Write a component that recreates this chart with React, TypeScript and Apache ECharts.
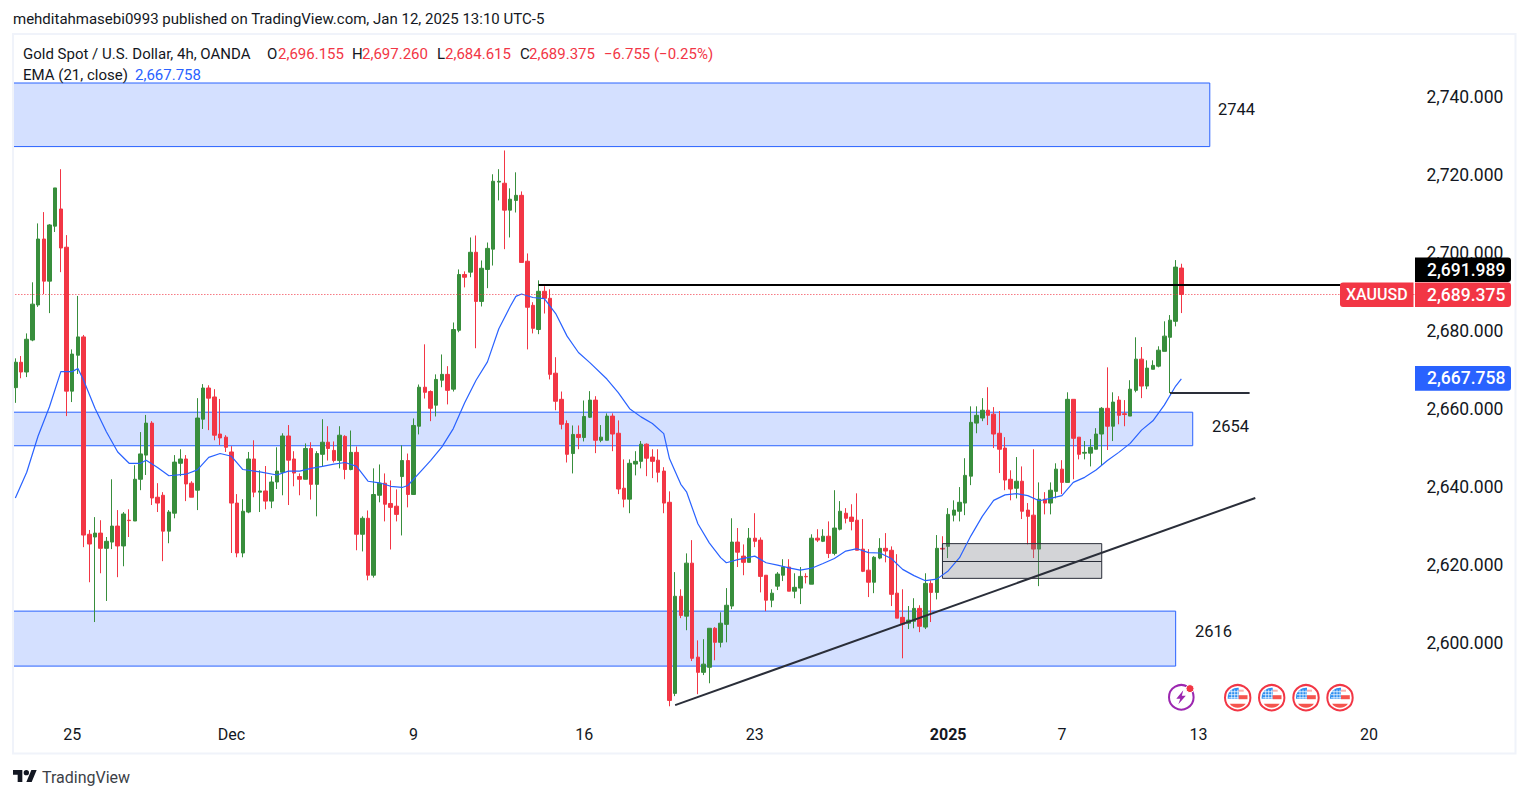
import React, { useEffect, useRef } from "react";
import * as echarts from "echarts";

const opens = [2665.5,2672.0,2669.5,2677.7,2686.7,2703.6,2692.8,2706.9,2711.3,2701.5,2664.6,2673.8,2678.5,2627.9,2627.2,2628.2,2624.3,2625.9,2630.0,2624.9,2631.5,2631.3,2642.0,2648.2,2656.4,2637.4,2637.9,2628.7,2633.3,2646.1,2647.2,2641.0,2639.2,2657.4,2665.4,2663.1,2653.6,2652.8,2649.0,2635.9,2623.1,2633.6,2647.2,2638.7,2639.0,2636.4,2641.3,2643.8,2653.1,2647.2,
2642.7,2642.0,2649.9,2640.7,2648.4,2651.5,2649.4,2646.8,2653.0,2644.5,2648.9,2627.9,2632.0,2617.4,2637.9,2641.0,2635.8,2635.1,2642.7,2646.8,2638.1,2655.6,2665.6,2664.5,2661.0,2667.4,2668.9,2665.1,2680.2,2694.5,2695.1,2700.2,2687.6,2695.8,2701.0,2718.2,2717.9,2711.0,2713.5,2714.8,2697.9,2686.6,2680.4,2690.2,2688.4,2669.2,2662.5,2656.3,2648.6,2653.5,2652.7,
2657.9,2662.3,2652.0,2652.0,2658.2,2653.8,2639.7,2636.9,2645.9,2646.6,2651.0,2647.7,2646.9,2644.1,2636.1,2587.1,2612.0,2606.9,2620.5,2596.4,2592.5,2593.8,2603.8,2600.2,2604.8,2609.5,2625.9,2622.3,2620.7,2626.9,2626.4,2617.4,2611.0,2614.6,2617.4,2619.5,2613.3,2614.1,2617.1,2615.1,2626.9,2626.1,2627.4,2623.0,2629.2,2633.3,2632.3,2631.5,2624.1,2618.7,2615.6,
2621.8,2624.3,2623.8,2612.8,2606.6,2605.1,2605.6,2608.9,2604.1,2615.3,2613.0,2624.3,2624.8,2632.8,2633.8,2635.9,2642.8,2656.4,2657.7,2659.7,2658.7,2653.8,2650.0,2642.0,2639.7,2641.5,2634.1,2632.8,2624.1,2636.9,2635.9,2638.9,2644.6,2641.2,2662.5,2652.8,2648.7,2648.7,2649.7,2653.6,2660.2,2655.6,2662.3,2658.8,2658.2,2664.8,2672.8,2665.9,2670.2,2671.0,2674.8,2678.4,2682.5,2696.155];
const closes = [2672.0,2669.5,2677.9,2686.9,2703.6,2692.8,2707.2,2716.7,2701.3,2664.6,2674.1,2678.5,2627.7,2625.4,2628.2,2624.3,2626.1,2630.0,2624.9,2633.1,2631.4,2642.0,2648.5,2656.4,2637.2,2635.9,2628.7,2633.6,2646.4,2647.2,2640.8,2637.4,2657.7,2665.4,2662.8,2653.3,2652.6,2650.2,2635.9,2623.1,2633.8,2647.2,2638.7,2639.0,2636.4,2641.3,2644.1,2653.1,2646.9,2643.6,
2642.0,2649.9,2640.7,2648.6,2651.5,2649.9,2646.8,2653.3,2644.5,2648.9,2627.9,2632.0,2617.4,2638.1,2641.0,2635.6,2634.8,2633.0,2646.8,2638.1,2655.8,2665.6,2664.3,2660.2,2667.6,2668.9,2664.8,2680.4,2694.5,2693.8,2700.2,2687.6,2696.1,2701.2,2718.4,2718.4,2711.0,2713.8,2714.8,2697.6,2686.1,2680.7,2690.2,2688.4,2668.9,2662.0,2656.1,2648.4,2653.5,2652.7,2658.1,
2662.3,2652.0,2652.8,2658.2,2653.6,2639.5,2636.9,2646.1,2646.6,2651.0,2647.4,2646.6,2643.8,2635.9,2585.3,2612.0,2607.1,2620.5,2596.1,2592.5,2594.6,2603.8,2600.2,2605.1,2609.7,2625.9,2623.3,2620.7,2626.9,2626.1,2617.1,2611.0,2612.8,2617.7,2619.5,2613.3,2614.3,2617.1,2617.0,2626.9,2626.4,2627.4,2623.0,2629.5,2633.8,2632.0,2631.2,2623.8,2618.4,2615.6,2622.0,
2624.3,2623.6,2612.5,2606.4,2604.8,2605.9,2608.9,2604.3,2615.3,2613.0,2624.3,2624.1,2633.0,2634.1,2636.1,2643.0,2656.6,2658.4,2659.7,2658.4,2653.6,2649.7,2641.8,2639.5,2641.5,2633.8,2632.5,2624.1,2636.9,2635.9,2639.2,2644.6,2641.2,2662.5,2652.5,2648.4,2648.9,2650.2,2653.6,2660.2,2655.6,2661.8,2658.4,2658.6,2665.1,2672.8,2665.9,2670.5,2671.2,2675.1,2678.7,2682.8,2696.4,2689.375];
const highs = [2673.0,2673.6,2679.4,2692.5,2707.6,2710.5,2707.4,2716.7,2721.5,2704.6,2675.3,2689.0,2679.0,2629.0,2632.3,2631.5,2627.2,2642.0,2634.1,2633.6,2634.3,2645.6,2654.1,2658.5,2656.9,2641.0,2638.7,2634.1,2648.2,2649.7,2648.2,2641.5,2662.8,2666.4,2666.1,2665.1,2662.6,2653.3,2650.5,2638.2,2636.9,2649.0,2652.0,2644.3,2645.4,2642.8,2650.2,2653.8,2655.9,2649.2,
2643.5,2651.2,2651.5,2649.2,2657.4,2655.6,2651.7,2655.6,2653.3,2654.5,2650.4,2632.5,2634.0,2644.8,2645.8,2643.5,2641.7,2639.4,2650.7,2648.6,2657.6,2666.3,2676.6,2664.8,2668.9,2674.0,2671.0,2682.2,2695.8,2695.3,2704.0,2704.5,2698.1,2702.7,2720.2,2721.5,2726.3,2716.6,2720.7,2715.8,2699.9,2687.4,2693.0,2691.5,2690.7,2673.3,2664.5,2657.1,2655.8,2655.8,2662.2,
2664.6,2663.3,2655.9,2658.9,2658.9,2657.1,2647.1,2647.1,2649.2,2651.8,2651.2,2649.7,2649.7,2645.1,2638.9,2618.2,2613.8,2623.0,2626.4,2600.7,2601.0,2603.8,2604.1,2607.9,2614.1,2632.0,2629.5,2625.3,2629.5,2633.3,2627.1,2617.4,2613.8,2618.2,2621.5,2621.5,2617.9,2619.5,2617.9,2627.9,2629.2,2629.2,2631.2,2639.2,2636.4,2634.6,2635.6,2638.4,2631.8,2624.1,2622.3,
2626.9,2628.2,2624.8,2622.8,2613.8,2609.5,2611.5,2609.7,2617.9,2616.1,2627.7,2627.4,2634.6,2636.6,2640.0,2647.4,2660.7,2660.7,2662.8,2665.6,2660.5,2659.5,2652.8,2644.3,2647.7,2645.3,2635.9,2649.7,2641.2,2638.7,2641.2,2646.1,2646.9,2664.3,2662.5,2652.8,2651.8,2652.3,2655.1,2660.5,2670.7,2664.3,2663.3,2662.3,2667.4,2678.4,2675.9,2672.5,2672.5,2676.1,2682.5,2684.1,2698.2,2697.26];
const lows = [2661.6,2667.9,2668.2,2677.4,2686.2,2689.5,2684.6,2705.4,2695.1,2658.2,2661.8,2669.0,2624.6,2615.6,2605.4,2617.9,2610.8,2624.1,2616.9,2619.7,2627.2,2631.3,2639.2,2643.1,2635.4,2633.6,2621.0,2625.6,2632.0,2642.8,2636.4,2637.4,2634.1,2654.9,2654.6,2652.0,2650.8,2649.0,2623.1,2622.0,2622.0,2633.3,2637.4,2633.6,2634.3,2634.6,2639.5,2637.9,2635.4,2640.2,
2637.9,2642.0,2636.8,2632.5,2645.3,2646.8,2646.3,2644.8,2642.0,2644.3,2623.8,2623.5,2616.1,2616.8,2636.1,2631.2,2624.0,2631.2,2627.6,2634.8,2638.1,2653.5,2662.7,2656.9,2658.1,2665.6,2661.2,2664.5,2679.7,2691.2,2693.8,2675.6,2686.3,2691.0,2696.8,2713.5,2701.0,2704.0,2710.4,2697.6,2675.3,2679.4,2679.2,2684.5,2667.6,2659.7,2654.8,2646.3,2643.5,2649.7,2651.7,
2657.7,2648.7,2651.5,2652.0,2649.2,2638.2,2634.8,2633.3,2643.0,2644.8,2642.8,2642.3,2641.2,2633.3,2583.8,2586.4,2606.4,2603.3,2595.4,2586.9,2591.8,2589.7,2595.6,2598.9,2600.2,2608.7,2619.5,2617.4,2620.7,2624.6,2613.0,2608.2,2609.2,2613.6,2615.9,2613.3,2611.5,2610.0,2615.3,2615.1,2625.9,2625.9,2621.8,2622.5,2628.9,2630.7,2628.9,2623.8,2618.2,2611.8,2612.8,
2621.5,2620.7,2609.5,2606.4,2596.1,2603.6,2603.8,2602.8,2603.6,2605.4,2611.2,2622.5,2621.8,2631.2,2631.2,2632.8,2640.5,2653.8,2656.9,2655.9,2650.0,2643.6,2639.2,2636.6,2637.1,2631.8,2625.3,2621.8,2614.6,2633.0,2633.0,2637.1,2638.2,2641.2,2642.0,2647.1,2647.1,2645.3,2649.7,2645.6,2649.5,2651.8,2656.1,2655.6,2658.2,2664.3,2662.8,2665.1,2670.2,2670.7,2674.8,2664.1,2681.2,2684.615];

const emaIndex = [0,2,4,6,8,10,11,12,14,16,18,20,22,23,25,27,30,32,34,36,38,40,43,46,48,50,52,54,56,58,60,62,64,66,68,69,71,73,75,77,79,81,83,85,87,88,89,91,93,95,97,99,101,104,106,108,110,112,114,115,117,118,120,122,124,125,127,130,132,134,136,138,140,142,144,146,148,150,152,154,156,158,160,162,164,166,168,170,172,174,176,178,180,182,184,186,188,190,192,194,196,198,200,202,204,205];
const emaValues = [2637.2,2643.8,2653.1,2660.6,2669.6,2669.6,2670.4,2667.4,2660.2,2654.2,2649.0,2646.1,2646.1,2646.9,2645.0,2642.9,2643.3,2644.4,2647.6,2648.6,2647.9,2644.5,2643.9,2643.1,2644.1,2644.1,2644.8,2645.3,2645.9,2646.3,2645.3,2641.5,2641.1,2640.2,2639.9,2640.4,2643.6,2646.8,2650.3,2655.0,2661.6,2667.4,2672.1,2680.6,2686.3,2688.9,2689.5,2688.6,2688.3,2684.5,2678.7,2674.5,2671.9,2667.7,2664.2,2660.1,2658.0,2656.3,2653.7,2647.3,2640.7,2638.8,2630.6,2625.7,2621.9,2620.6,2621.4,2622.3,2620.6,2620.0,2619.3,2618.7,2619.2,2620.4,2621.7,2623.6,2624.2,2623.2,2623.1,2621.7,2618.9,2617.3,2616.0,2616.4,2618.5,2621.9,2627.5,2632.5,2636.6,2638.0,2638.3,2637.8,2636.5,2637.1,2637.8,2641.2,2642.5,2644.4,2646.8,2648.9,2651.2,2654.6,2657.0,2661.0,2665.9,2667.758];

const totalBars = 247;
const categories = Array.from({ length: totalBars }, (_, i) => String(i));
const timeTickIndex = [10, 38, 70, 100, 130, 164, 184, 208, 238];
const timeTickLabels = ["25", "Dec", "9", "16", "23", "2025", "7", "13", "20"];

const zoneTops = [2743.6, 2659.2, 2608.2];
const zoneBottoms = [2727.3, 2650.6, 2594.1];
const zoneEnds = [210, 207, 204];
const zoneNames = ["2744", "2654", "2616"];

const boxStart = 163; const boxEnd = 191;
const boxTop = 2625.5; const boxMid = 2620.9; const boxBottom = 2616.6;
const trendStart = [116, 2584.1]; const trendEnd = [218, 2637.2];
const resistanceLevel = 2691.989; const resistanceSpan = [92, 233];
const supportLevel = 2664.2; const supportSpan = [203, 217];
const lastClose = 2689.375; const lastEma = 2667.758;

const FONT = "Roboto, 'Noto Sans', sans-serif";
const INK = "#131722"; const RED = "#f23645"; const GREEN = "#388e3c"; const BLUE = "#2962ff";

const TV_LOGO = "M14 22H7V11H0V4h14v18zM28 22h-8l7.5-18h8L28 22zM16 8a4 4 0 1 0 8 0a4 4 0 1 0 -8 0z";
const FLAG_BLUE = "M1 -10A10 10 0 0 0 -10 1L1 1Z";
const FLAG_BOTTOM = "M-8 6A10 10 0 0 0 8 6Z";
const BOLT = "M2 -7L-5 1.5L-1 1.5L-3 7L4.5 -1.5L0.5 -1.5Z";

const money = (v: number) => v.toLocaleString("en-US", { minimumFractionDigits: 3, maximumFractionDigits: 3 });

function txt(x: number, y: number, text: string, fill = INK, fontSize = 15) {
  return { type: "text", x, y, z: 50, style: { text, fill, fontSize, fontFamily: FONT, textVerticalAlign: "middle" } };
}
function priceTag(y: number, h: number, fill: string, text: string) {
  return [
    { type: "rect", z: 40, shape: { x: 1415, y, width: 96, height: h, r: [0, 3, 3, 0] }, style: { fill } },
    { type: "text", z: 41, x: 1427, y: y + h / 2, style: { text, fill: "#fff", fontSize: 17.5, fontFamily: FONT, fontWeight: 500, textVerticalAlign: "middle" } },
  ];
}
function flag(cx: number, cy: number) {
  const lines = [-6, -3, 0].map((dx) => ({ type: "line", shape: { x1: dx, y1: -8, x2: dx, y2: 1 }, style: { stroke: "#ffffff", lineWidth: 0.7 } }));
  const rows = [-6, -3, 0].map((dy) => ({ type: "line", shape: { x1: -9, y1: dy, x2: 1, y2: dy }, style: { stroke: "#ffffff", lineWidth: 0.7 } }));
  return {
    type: "group", x: cx, y: cy, z: 30,
    children: [
      { type: "circle", shape: { cx: 0, cy: 0, r: 12.7 }, style: { fill: "#fff", stroke: RED, lineWidth: 2 } },
      { type: "circle", shape: { cx: 0, cy: 0, r: 10 }, style: { fill: "#fff" } },
      { type: "flagBlue", style: { fill: "#2f8ff0" } },
      ...lines, ...rows,
      { type: "rect", shape: { x: 1, y: -2.5, width: 8.8, height: 4 }, style: { fill: "#f5544e" } },
      { type: "rect", shape: { x: 1, y: -8, width: 5, height: 2 }, style: { fill: "#fbb0ac" } },
      { type: "flagBottom", style: { fill: "#f5544e" } },
    ],
  };
}

export default function App() {
  const ref = useRef<HTMLDivElement>(null);
  useEffect(() => {
    document.body.style.margin = "0";
    echarts.graphic.registerShape("tvLogo", echarts.graphic.extendPath(TV_LOGO, {}) as any);
    echarts.graphic.registerShape("flagBlue", echarts.graphic.extendPath(FLAG_BLUE, {}) as any);
    echarts.graphic.registerShape("flagBottom", echarts.graphic.extendPath(FLAG_BOTTOM, {}) as any);
    echarts.graphic.registerShape("boltIcon", echarts.graphic.extendPath(BOLT, {}) as any);
    const chart = echarts.init(ref.current!, undefined, { renderer: "svg" });
    const candleData = opens.map((o, i) => [o, closes[i], lows[i], highs[i]]);
    const mkSeg = (a: number[], b: number[], color: string, width: number, type: any = "solid") => [
      { coord: a, lineStyle: { color, width, type, opacity: 1 }, symbol: "none" },
      { coord: b, symbol: "none" },
    ];
    chart.setOption({
      animation: false,
      backgroundColor: "#ffffff",
      grid: { left: 12.5, right: 111.6, top: 36.2, bottom: 76.9, containLabel: false },
      tooltip: { show: false },
      xAxis: {
        type: "category", data: categories, boundaryGap: true,
        axisLine: { show: false }, axisTick: { show: false }, splitLine: { show: false },
        axisLabel: {
          interval: (i: number) => timeTickIndex.includes(i),
          margin: 5, color: INK, fontSize: 16, fontFamily: FONT, hideOverlap: false,
          formatter: (v: string) => {
            const k = timeTickIndex.indexOf(Number(v));
            if (k < 0) return "";
            const s = timeTickLabels[k];
            return s === "2025" ? `{b|${s}}` : s;
          },
          rich: { b: { fontWeight: 700, fontSize: 16, fontFamily: FONT, color: INK } },
        },
      },
      yAxis: {
        type: "value", position: "right", min: 2580, max: 2755.6, interval: 20, scale: true,
        axisLine: { show: false }, axisTick: { show: false }, splitLine: { show: false },
        axisLabel: {
          margin: 9, color: INK, fontSize: 17.5, fontFamily: FONT, showMinLabel: false, showMaxLabel: false,
          padding: [0, 0, 4, 0],
          formatter: (v: number) => money(v),
        },
      },
      series: [
        {
          name: "zones", type: "line", data: [], z: 1, silent: true, symbol: "none",
          markArea: {
            silent: true, z: 1,
            itemStyle: { color: "rgba(41,98,255,0.2)", borderColor: BLUE, borderWidth: 1 },
            data: zoneTops.map((t, i) => [
              { xAxis: 0, yAxis: t, x: 12.5 },
              { xAxis: zoneEnds[i], yAxis: zoneBottoms[i] },
            ]),
          },
        },
        {
          name: "XAUUSD", type: "candlestick", data: candleData, z: 3, barWidth: 4, silent: true,
          itemStyle: { color: GREEN, color0: RED, borderColor: GREEN, borderColor0: RED, borderWidth: 1 },
        },
        {
          name: "box", type: "line", data: [], z: 4, silent: true, symbol: "none",
          markArea: {
            silent: true, z: 4,
            itemStyle: { color: "rgba(120,123,134,0.33)", borderColor: "#2a2e39", borderWidth: 1 },
            data: [[{ coord: [boxStart, boxTop] }, { coord: [boxEnd, boxBottom] }]],
          },
        },
        {
          name: "EMA", type: "line", z: 5, silent: true, symbol: "none", showSymbol: false,
          data: emaIndex.map((k, i) => [k, emaValues[i]]),
          lineStyle: { color: BLUE, width: 1.2 }, smooth: false,
        },
        {
          name: "levels", type: "line", data: [], z: 6, silent: true, symbol: "none",
          markLine: {
            silent: true, symbol: "none", label: { show: false }, z: 6,
            data: [
              mkSeg(trendStart, trendEnd, "#2a2e39", 2),
              mkSeg([resistanceSpan[0], resistanceLevel], [resistanceSpan[1], resistanceLevel], "#000000", 2),
              mkSeg([supportSpan[0], supportLevel], [supportSpan[1], supportLevel], "#2a2e39", 2),
              mkSeg([boxStart, boxMid], [boxEnd, boxMid], "#2a2e39", 1),
              [
                { coord: [0, lastClose], lineStyle: { color: RED, width: 1, type: [1, 2], opacity: 1 }, symbol: "none" },
                { coord: [totalBars - 1, lastClose], symbol: "none" },
              ],
            ],
          },
        },
      ],
      graphic: [
        { type: "rect", z: 20, silent: true, shape: { x: 13, y: 34, width: 1502.5, height: 719.5 }, style: { fill: "none", stroke: "#f0f3fa", lineWidth: 2 } },
        txt(13, 19, "mehditahmasebi0993 published on TradingView.com, Jan 12, 2025 13:10 UTC-5"),
        txt(23, 54, "Gold Spot / U.S. Dollar, 4h, OANDA"),
        txt(267, 54, "O"), txt(278, 54, "2,696.155", RED),
        txt(352, 54, "H"), txt(362, 54, "2,697.260", RED),
        txt(437, 54, "L"), txt(445, 54, "2,684.615", RED),
        txt(520, 54, "C"), txt(529, 54, "2,689.375", RED),
        txt(604, 54, "−6.755 (−0.25%)", RED),
        txt(23, 75, "EMA (21, close)"), txt(135, 75, "2,667.758", BLUE),
        txt(1218, 109, zoneNames[0], INK, 16.5),
        txt(1212, 426, zoneNames[1], INK, 16.5),
        txt(1195, 631, zoneNames[2], INK, 16.5),
        ...priceTag(257.5, 24.5, "#000000", money(resistanceLevel)),
        { type: "rect", z: 40, shape: { x: 1340, y: 282.5, width: 73.5, height: 24.5, r: [3, 0, 0, 3] }, style: { fill: RED } },
        { type: "text", z: 41, x: 1346, y: 294.7, style: { text: "XAUUSD", fill: "#fff", fontSize: 16, fontFamily: FONT, fontWeight: 500, textVerticalAlign: "middle" } },
        ...priceTag(282.5, 24.5, RED, money(lastClose)),
        ...priceTag(366, 24.7, BLUE, money(lastEma)),
        {
          type: "group", x: 1181.3, y: 697.3, z: 30,
          children: [
            { type: "circle", shape: { cx: 0, cy: 0, r: 12.3 }, style: { fill: "#fff", stroke: "#9c27b0", lineWidth: 2 } },
            { type: "boltIcon", style: { fill: "#9c27b0" } },
            { type: "circle", shape: { cx: 8.7, cy: -8.7, r: 4 }, style: { fill: RED, stroke: "#fff", lineWidth: 1 } },
          ],
        },
        flag(1237.7, 697.7), flag(1271.7, 697.7), flag(1306, 697.7), flag(1340, 697.7),
        { type: "tvLogo", x: 13, y: 767.3, scaleX: 0.667, scaleY: 0.667, z: 30, style: { fill: "#131722" } },
        txt(42, 777, "TradingView", "#3c3f47", 16),
      ],
    });
    return () => chart.dispose();
  }, []);
  return <div ref={ref} style={{ position: "absolute", left: 0, top: 0, width: 1529, height: 798 }} />;
}
